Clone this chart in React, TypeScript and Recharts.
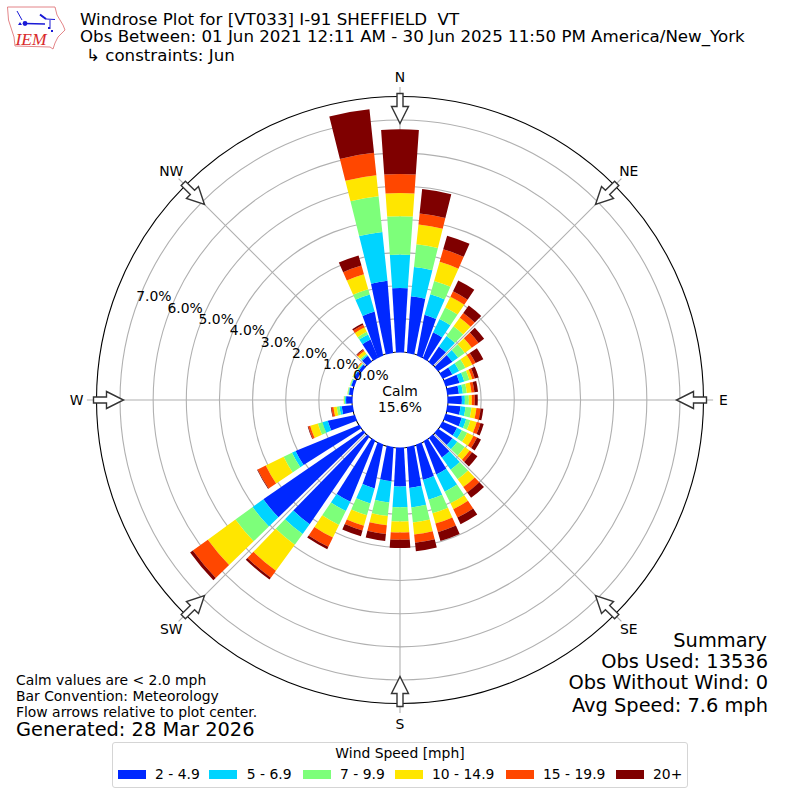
import React from "react";
import { RadarChart, Radar, PolarGrid, PolarAngleAxis, PolarRadiusAxis, Sector, Legend } from "recharts";

const FONT = "'DejaVu Sans', sans-serif";
const directions = [0,10,20,30,40,50,60,70,80,90,100,110,120,130,140,150,160,170,180,190,200,210,220,230,240,250,260,270,280,290,300,310,320,330,340,350];
const speed2to5 = [1.93,1.70,1.23,.83,.55,.51,.31,.42,.34,.42,.39,.49,.47,.51,.70,1.05,1.06,1.22,1.16,1.02,1.33,1.97,3.19,3.65,2.06,.82,.32,.18,.10,.08,.09,.08,.20,.58,1.33,2.17];
const speed5to7 = [1.01,.89,.64,.44,.39,.21,.23,.15,.12,.09,.15,.14,.16,.18,.45,.58,.62,.59,.63,.64,.47,.31,.36,.40,.12,.17,.07,.03,.02,.02,.02,.03,.04,.17,.53,1.48];
const speed7to10 = [1.16,.69,.42,.39,.36,.25,.21,.16,.12,.12,.18,.13,.18,.28,.36,.39,.43,.46,.43,.41,.37,.47,.40,.64,.28,.14,.08,.03,.02,.02,.02,.02,.04,.09,.17,1.08];
const speed10to15 = [.70,.60,.60,.36,.32,.26,.23,.09,.14,.09,.15,.20,.21,.18,.29,.20,.32,.36,.33,.28,.33,.42,.97,1.03,.60,.24,.10,.01,.01,.01,.02,.03,.10,.15,.47,.64];
const speed15to20 = [.57,.33,.39,.18,.18,.25,.11,.08,.09,.09,.13,.12,.12,.09,.20,.28,.27,.25,.22,.27,.15,.31,.26,.56,.27,.06,.06,0,0,0,0,.02,.05,.09,.27,.68];
const speed20plus = [1.35,.74,.43,.36,.28,.21,.26,.12,.11,.09,.08,.10,.13,.20,.20,.22,.28,.26,.25,.21,.18,.08,.07,.10,.02,.02,.02,0,0,0,0,0,.02,.05,.32,1.32];
const bands = [speed2to5, speed5to7, speed7to10, speed10to15, speed15to20, speed20plus];
const bandNames = ["2 - 4.9", "5 - 6.9", "7 - 9.9", "10 - 14.9", "15 - 19.9", "20+"];
const bandColors = ["#0028ff", "#00d4ff", "#7dff7a", "#ffe600", "#ff4700", "#7f0000"];
const radiusTicks = [0,1,2,3,4,5,6,7,8];
const compassNames = ["N","NE","E","SE","S","SW","W","NW"];
const compassBearings = [0,45,90,135,180,225,270,315];
const compassAngles = [90,45,0,-45,-90,-135,-180,-225];

const rows = directions.map((d, i) => {
  const row: any = { dir: d };
  let low = 0;
  bands.forEach((b, k) => { row["s" + k] = [low, low + b[i]]; low += b[i]; });
  return row;
});

const CX = 400, CY = 400, R0 = 48, ROUT = 303.5, MAXV = 8, RING = 33.14;
const RAXIS = R0 + MAXV * RING;
const HALF = 4;
const ringR = (v: number) => R0 + v * RING;
const pt = (r: number, compassDeg: number) => {
  const a = (compassDeg * Math.PI) / 180;
  return [CX + r * Math.sin(a), CY - r * Math.cos(a)];
};

// The innermost band fans out slightly towards the calm circle, as in the reference.
const splay = (t: number, amount: number) => t + amount * 5 * Math.sin((4 * t * Math.PI) / 180);

const InnerBand = (color: string) => (props: any) => {
  const pts = props.points || [];
  return (
    <g>
      {pts.map((p: any, i: number) => {
        const t = 90 - p.angle;
        const amt = Math.min(1, Math.max(0, (p.radius - R0) / 40));
        const innerL = t - HALF + amt * (splay(t - 5, amt) + 1.8 - (t - HALF));
        const innerR = t + HALF + amt * (splay(t + 5, amt) - 1.8 - (t + HALF));
        const a = pt(R0 - 2, innerL), b = pt(p.radius, t - HALF), c = pt(p.radius, t + HALF), d = pt(R0 - 2, innerR);
        const path = `M${a[0]} ${a[1]} L${b[0]} ${b[1]} A${p.radius} ${p.radius} 0 0 1 ${c[0]} ${c[1]} L${d[0]} ${d[1]} Z`;
        return <path key={i} d={path} fill={color} />;
      })}
    </g>
  );
};

const WedgeShape = (color: string) => (props: any) => {
  const pts = props.points || [];
  const base = props.baseLinePoints || [];
  return (
    <g>
      {pts.map((p: any, i: number) => {
        const inner = base[i] ? base[i].radius : R0;
        if (!(p.radius - inner > 0)) return null;
        return <Sector key={i} cx={CX} cy={CY} innerRadius={inner} outerRadius={p.radius}
          startAngle={p.angle + HALF} endAngle={p.angle - HALF} fill={color} stroke="none" />;
      })}
    </g>
  );
};

const RadiusTick = (props: any) => {
  const { x, y, payload } = props;
  if (payload.value === 0 || payload.value > 7) return <g />;
  return <text x={x + 17} y={y - 8} textAnchor="middle" dominantBaseline="central" fontSize={13.9} fontFamily={FONT} fill="#000">{payload.value.toFixed(1)}%</text>;
};

const swatchLefts = [4.5, 96.3, 189.5, 281.5, 392.5, 502.5];
const LegendBox = () => (
  <div style={{ boxSizing: "border-box", width: 576, height: 46, border: "1px solid #d5d5d5", borderRadius: 3, background: "#fff", fontFamily: FONT, fontSize: 13.9, position: "relative" }}>
    <div style={{ position: "absolute", top: 2, left: 0, width: "100%", textAlign: "center", lineHeight: "17px" }}>Wind Speed [mph]</div>
    {bandNames.map((n, i) => (
      <div key={n} style={{ position: "absolute", left: swatchLefts[i], top: 23, whiteSpace: "nowrap", lineHeight: "17px", display: "flex", alignItems: "center" }}>
        <span style={{ display: "inline-block", width: 28, height: 9.5, background: bandColors[i], marginRight: 9.5 }} />
        {n}
      </div>
    ))}
  </div>
);

export default function App() {
  return (
    <div style={{ position: "absolute", left: 0, top: 0, width: 800, height: 800, background: "#fff", overflow: "hidden" }}>
      <RadarChart width={800} height={800} data={rows} cx={CX} cy={CY} innerRadius={R0} outerRadius={RAXIS} startAngle={90} endAngle={-270} margin={{ top: 0, right: 0, bottom: 0, left: 0 }}>
        <PolarAngleAxis dataKey="dir" type="category" axisLine={false} tickLine={false} tick={false} />
        <PolarRadiusAxis angle={160} domain={[0, MAXV]} ticks={radiusTicks as any} type="number" axisLine={false} tickLine={false} tick={RadiusTick} />
        {bandNames.map((n, k) => (
          <Radar key={n} name={n} dataKey={"s" + k} fill={bandColors[k]} stroke="none" dot={false} isAnimationActive={false} shape={k === 0 ? InnerBand(bandColors[k]) : WedgeShape(bandColors[k])} />
        ))}
        <PolarGrid gridType="circle" innerRadius={R0} outerRadius={ROUT} polarAngles={compassAngles} polarRadius={radiusTicks.slice(1, 8).map(ringR)} stroke="#b0b0b0" strokeWidth={1.1} />
        <PolarGrid gridType="circle" radialLines={false} polarAngles={[]} polarRadius={[R0, ROUT]} stroke="#000" strokeWidth={1.1} />
        <Legend content={LegendBox} wrapperStyle={{ position: "absolute", left: 112, top: 742, width: 576 }} />
      </RadarChart>
      <svg width={800} height={800} style={{ position: "absolute", left: 0, top: 0, pointerEvents: "none" }} fontFamily={FONT}>
        {compassNames.map((name, i) => {
          const b = compassBearings[i];
          const [lx, ly] = pt(323.5, b);
          return (
            <g key={name}>
              <g transform={`translate(${CX} ${CY}) rotate(${b - 90})`}>
                <path d="M306.5 -3 L293.5 -3 L293.5 -8.5 L276.5 0 L293.5 8.5 L293.5 3 L306.5 3 Z" fill="#fff" stroke="#333" strokeWidth={1.4} />
              </g>
              <text x={lx} y={ly} textAnchor="middle" dominantBaseline="central" fontSize={13.9}>{name}</text>
            </g>
          );
        })}
        <circle cx={CX} cy={CY} r={R0 - 0.6} fill="#fff" />
        <text x={400} y={391} textAnchor="middle" dominantBaseline="central" fontSize={13.9}>Calm</text>
        <text x={400} y={407} textAnchor="middle" dominantBaseline="central" fontSize={13.9}>15.6%</text>
        <text x={371} y={375} textAnchor="middle" dominantBaseline="central" fontSize={13.9}>0.0%</text>
        <g>
          <path d="M7.5 7 L55 7 L57 15 L63 25 L65 30 L58 37 L55 43 L53 49 L50 47 L15 46 L14 37 L8.5 20 Z" fill="#fff" stroke="#e0777a" strokeWidth={0.9} />
          <path d="M25 23.5 L45 24" stroke="#1a1ad6" strokeWidth={1.6} fill="none" />
          <circle cx={25} cy={23.5} r={2.4} fill="#1a1ad6" />
          <path d="M40 15 L46 19 L55 19.5 M50 20 L50 29 M17 11 L22 20" stroke="#1a1ad6" strokeWidth={1} fill="none" />
          <path d="M40 14.5 L46 19" stroke="#1a1ad6" strokeWidth={2} fill="none" />
          <path d="M18 25 L20 22 L22 25 Z M48 27 h2 v2 h-2 Z M51 30 h2 v2 h-2 Z" fill="#1a1ad6" />
          <text x={15.5} y={45} fontFamily="'Liberation Serif', serif" fontStyle="italic" fontSize={17.5} fill="#d92b2b">IEM</text>
        </g>
        <g fontSize={16.67}>
          <text x={80} y={25} xmlSpace="preserve" style={{ whiteSpace: "pre" }}>{"Windrose Plot for [VT033] I-91 SHEFFIELD\u00A0 VT"}</text>
          <text x={80} y={42}>Obs Between: 01 Jun 2021 12:11 AM - 30 Jun 2025 11:50 PM America/New_York</text>
          <text x={86} y={61}>↳ constraints: Jun</text>
        </g>
        <g textAnchor="end" fontSize={19.4}>
          <text x={767} y={647}>Summary</text>
          <text x={768} y={668}>Obs Used: 13536</text>
          <text x={768} y={689}>Obs Without Wind: 0</text>
          <text x={768} y={712}>Avg Speed: 7.6 mph</text>
        </g>
        <text x={16} y={685} fontSize={13.9}>Calm values are &lt; 2.0 mph</text>
        <text x={16} y={701} fontSize={13.9}>Bar Convention: Meteorology</text>
        <text x={16} y={717} fontSize={13.9}>Flow arrows relative to plot center.</text>
        <text x={16} y={736} fontSize={19.4}>Generated: 28 Mar 2026</text>
      </svg>
    </div>
  );
}
